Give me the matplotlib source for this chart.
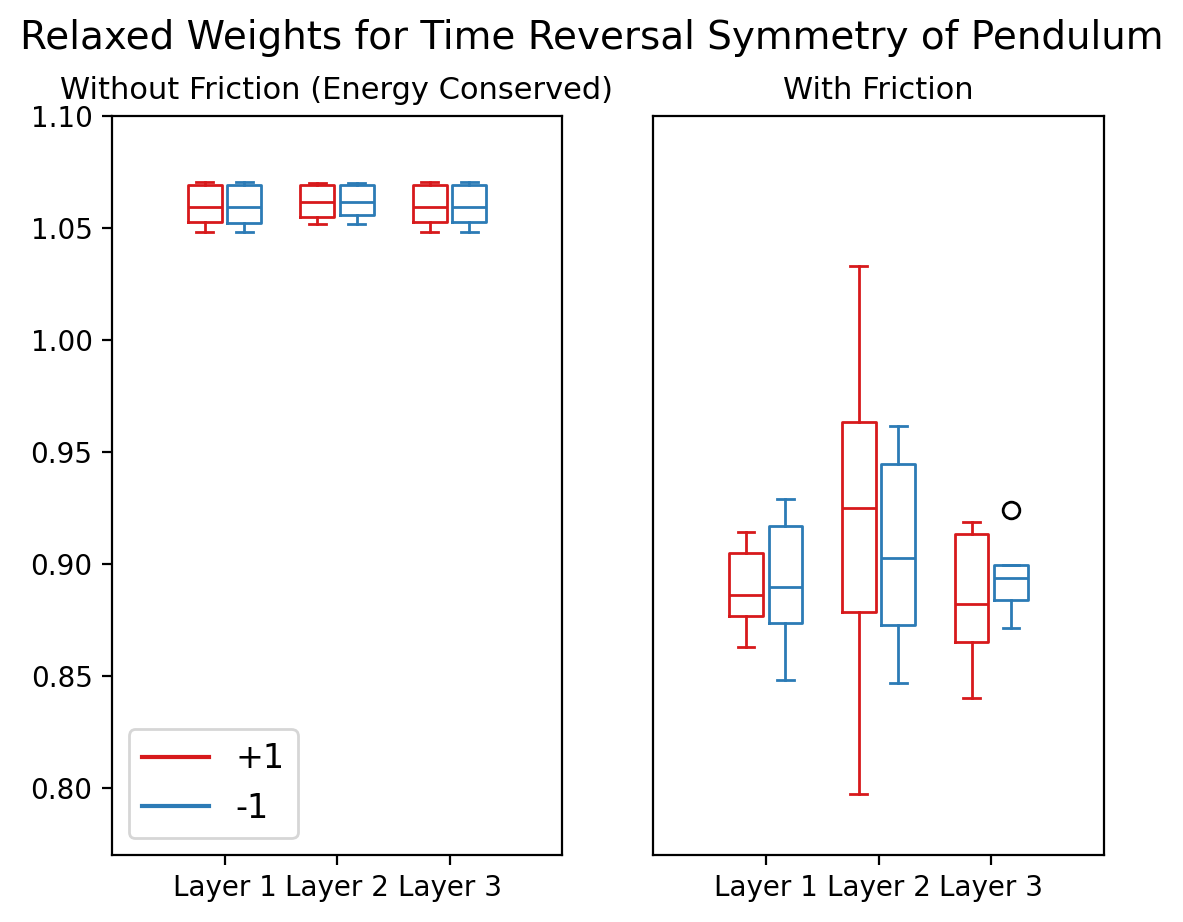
import matplotlib
matplotlib.use("Agg")
import matplotlib.pyplot as plt

# --- DONNÉES ---
layers = ["Layer 1", "Layer 2", "Layer 3"]

# sans friction : [whislo, q1, med, q3, whishi]
nofric_pos = [[1.0481, 1.0525, 1.0592, 1.0692, 1.0704],
              [1.0516, 1.0550, 1.0614, 1.0692, 1.0699],
              [1.0481, 1.0525, 1.0592, 1.0692, 1.0704]]
nofric_neg = [[1.0481, 1.0521, 1.0592, 1.0692, 1.0704],
              [1.0516, 1.0557, 1.0614, 1.0692, 1.0699],
              [1.0481, 1.0525, 1.0592, 1.0692, 1.0704]]

# avec friction
fric_pos = [[0.8630, 0.8769, 0.8862, 0.9048, 0.9143],
            [0.7974, 0.8785, 0.9251, 0.9635, 1.0329],
            [0.8402, 0.8651, 0.8820, 0.9133, 0.9187]]
fric_neg = [[0.8482, 0.8736, 0.8898, 0.9170, 0.9291],
            [0.8469, 0.8727, 0.9028, 0.9446, 0.9617],
            [0.8715, 0.8839, 0.8938, 0.8996, 0.8996]]
fric_neg_fliers = [[], [], [0.9240]]

RED = "#D7191C"
BLUE = "#2C7BB6"


def make_stats(rows, fliers=None):
    stats = []
    for i, r in enumerate(rows):
        stats.append(dict(whislo=r[0], q1=r[1], med=r[2], q3=r[3], whishi=r[4],
                          fliers=fliers[i] if fliers else []))
    return stats


def set_box_color(bp, color):
    plt.setp(bp["boxes"], color=color)
    plt.setp(bp["whiskers"], color=color)
    plt.setp(bp["caps"], color=color)
    plt.setp(bp["medians"], color=color)


def draw(ax, pos_rows, neg_rows, neg_fliers=None):
    bpl = ax.bxp(make_stats(pos_rows), positions=[-0.35, 1.65, 3.65], widths=0.6)
    bpr = ax.bxp(make_stats(neg_rows, neg_fliers), positions=[0.35, 2.35, 4.35], widths=0.6)
    set_box_color(bpl, RED)
    set_box_color(bpr, BLUE)
    ax.set_xticks([0, 2, 4])
    ax.set_xticklabels(layers)
    ax.set_xlim(-2, 6)
    ax.set_ylim(0.77, 1.10)


fig = plt.figure(figsize=(5.915, 4.61), dpi=200)
ax1 = fig.add_axes([112 / 1183, 1 - 855 / 922, 450 / 1183, 739 / 922])
ax2 = fig.add_axes([653 / 1183, 1 - 855 / 922, 451 / 1183, 739 / 922], sharey=ax1)

draw(ax1, nofric_pos, nofric_neg)
ax1.plot([], c=RED, label="+1")
ax1.plot([], c=BLUE, label="-1")
ax1.legend(loc="lower left", fontsize=12)
ax1.set_title("Without Friction (Energy Conserved)", fontsize=11)

draw(ax2, fric_pos, fric_neg, fric_neg_fliers)
ax2.tick_params(axis="y", left=False, labelleft=False)
ax2.set_title("With Friction", fontsize=11)

fig.suptitle("Relaxed Weights for Time Reversal Symmetry of Pendulum", fontsize=14, y=0.979)

fig.savefig("out.png", dpi=200)
